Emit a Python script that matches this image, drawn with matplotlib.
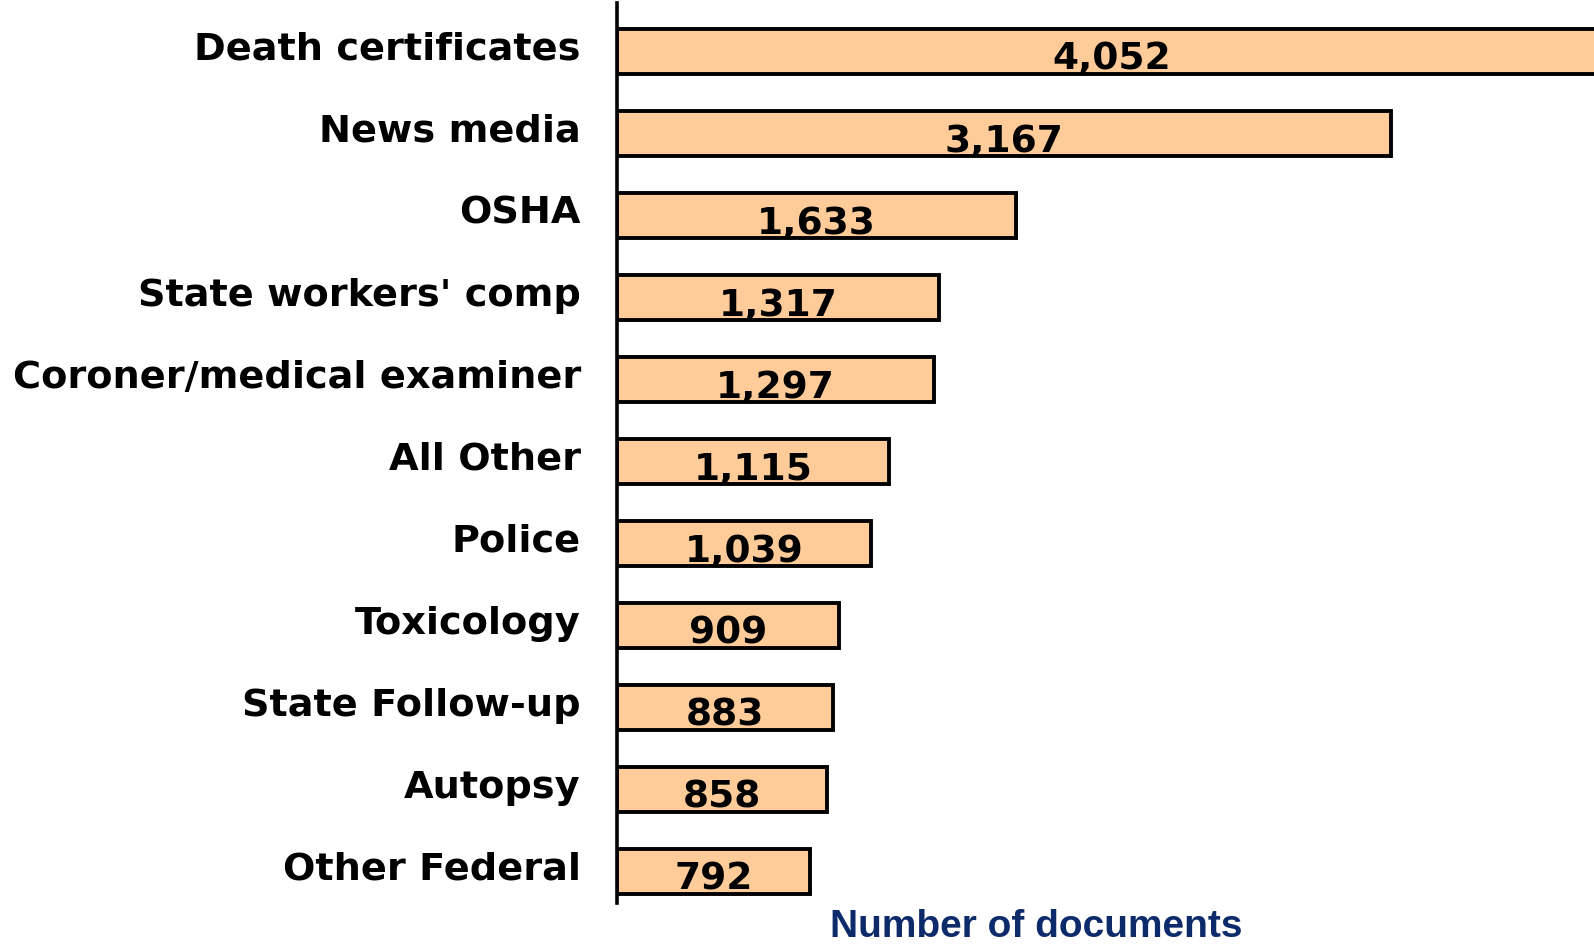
import matplotlib.pyplot as plt
import matplotlib.transforms as mtransforms

# Sources of documents, largest first
sources = ['Death certificates', 'News media', 'OSHA', "State workers' comp",
           'Coroner/medical examiner', 'All Other', 'Police', 'Toxicology',
           'State Follow-up', 'Autopsy', 'Other Federal']
documents = [4052, 3167, 1633, 1317, 1297, 1115, 1039, 909, 883, 858, 792]

fig = plt.figure(figsize=(15.94, 9.44), dpi=100)
ax = fig.add_axes([0.387, 0.0434, 0.613, 0.9534])

pos = list(range(len(sources)))
# fill first, labels next, outlines on top (outline cuts the digits like the original)
ax.barh(pos, documents, height=0.55, color='#FFCC99', edgecolor='none', zorder=1)
for p, v in zip(pos, documents):
    ax.text(v / 2, p + 0.22, f'{v:,}', ha='center', va='baseline',
            fontsize=27, fontweight='bold', color='black', zorder=2)
ax.barh(pos, documents, height=0.55, color='none', edgecolor='black',
        linewidth=2.8, zorder=3)

ax.set_xlim(0, 3998)
ax.set_ylim(10.38, -0.59)
ax.set_yticks(pos)
ax.set_yticklabels(sources, fontsize=27.5, fontweight='bold')
ax.tick_params(axis='y', length=0, pad=26)
shift = mtransforms.ScaledTranslation(0, 6 / 100, fig.dpi_scale_trans)
for lbl in ax.get_yticklabels():
    lbl.set_transform(lbl.get_transform() + shift)
ax.set_xticks([])
for s in ['top', 'right', 'bottom']:
    ax.spines[s].set_visible(False)
ax.spines['left'].set_linewidth(2.6)

fig.text(1036 / 1594, 1 - 927 / 944, 'Number of documents', ha='center', va='center',
         fontsize=28, fontweight='bold', color='#0D2A6B', family='Liberation Sans')

fig.savefig('out.png', dpi=100)
